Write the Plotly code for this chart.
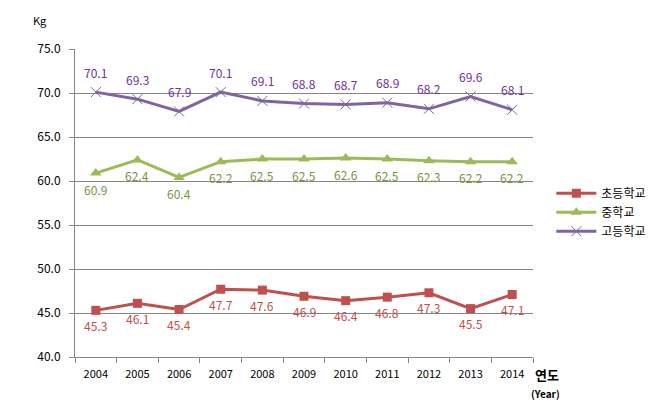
import plotly.graph_objects as go

years = ["2004", "2005", "2006", "2007", "2008", "2009", "2010", "2011", "2012", "2013", "2014"]
elementary = [45.3, 46.1, 45.4, 47.7, 47.6, 46.9, 46.4, 46.8, 47.3, 45.5, 47.1]
middle = [60.9, 62.4, 60.4, 62.2, 62.5, 62.5, 62.6, 62.5, 62.3, 62.2, 62.2]
high = [70.1, 69.3, 67.9, 70.1, 69.1, 68.8, 68.7, 68.9, 68.2, 69.6, 68.1]
names = ["초등학교", "중학교", "고등학교"]
y_ticks = [40, 45, 50, 55, 60, 65, 70, 75]

FONT = "Noto Sans CJK KR"

fig = go.Figure()
fig.add_trace(go.Scatter(
    x=years, y=elementary, name=names[0], mode="lines+markers",
    line=dict(color="#C0504D", width=3),
    marker=dict(symbol="square", size=9, color="#C0504D"),
))
fig.add_trace(go.Scatter(
    x=years, y=middle, name=names[1], mode="lines+markers",
    line=dict(color="#9BBB59", width=3),
    marker=dict(symbol="triangle-up", size=10, color="#9BBB59"),
))
fig.add_trace(go.Scatter(
    x=years, y=high, name=names[2], mode="lines+markers",
    line=dict(color="#8064A2", width=3),
    marker=dict(symbol="x-thin-open", size=10, color="#8064A2", line=dict(width=1, color="#8064A2")),
))

annos = []
for vals, color, shift in [(elementary, "#C0504D", -15), (middle, "#77933C", -16), (high, "#7030A0", 20)]:
    for i, v in enumerate(vals):
        annos.append(dict(x=i, y=v, xref="x", yref="y", text=f"{v:.1f}", showarrow=False, yshift=shift,
                          xanchor="center", yanchor="middle",
                          font=dict(color=color, size=12, family=FONT)))

annos += [
    dict(text="Kg", xref="paper", yref="paper", x=-0.077, y=1.095, showarrow=False,
         xanchor="center", yanchor="middle", font=dict(size=11, family=FONT)),
    dict(text="<b>연도</b>", xref="paper", yref="paper", x=1.0, y=-0.058, showarrow=False,
         xanchor="left", yanchor="middle", font=dict(size=13, family=FONT)),
    dict(text="<b>(Year)</b>", xref="paper", yref="paper", x=0.992, y=-0.118, showarrow=False,
         xanchor="left", yanchor="middle", font=dict(size=10, family=FONT)),
]

fig.update_layout(
    width=650, height=410,
    margin=dict(l=75, r=117, t=49, b=53, autoexpand=False),
    paper_bgcolor="white", plot_bgcolor="white",
    font=dict(family=FONT, size=11, color="black"),
    legend=dict(x=1.04, y=0.47, xanchor="left", yanchor="middle",
                font=dict(size=12, family=FONT), tracegroupgap=0, itemwidth=40),
    xaxis=dict(type="category", range=[-0.5, 10.5], tickson="boundaries",
               ticks="outside", ticklen=5, tickcolor="#868686",
               showline=True, linecolor="#868686", linewidth=1,
               showgrid=False, tickfont=dict(size=11, family=FONT),
               ticklabelstandoff=7),
    yaxis=dict(range=[40, 75], tickvals=y_ticks, ticktext=[f"{v:.1f}" for v in y_ticks],
               ticks="outside", ticklen=5, tickcolor="#868686",
               showline=True, linecolor="#868686", linewidth=1,
               showgrid=True, gridcolor="#868686", gridwidth=1, zeroline=False,
               tickfont=dict(size=12, family=FONT), ticklabelstandoff=6),
    annotations=annos,
)

fig.write_html("out.html")
